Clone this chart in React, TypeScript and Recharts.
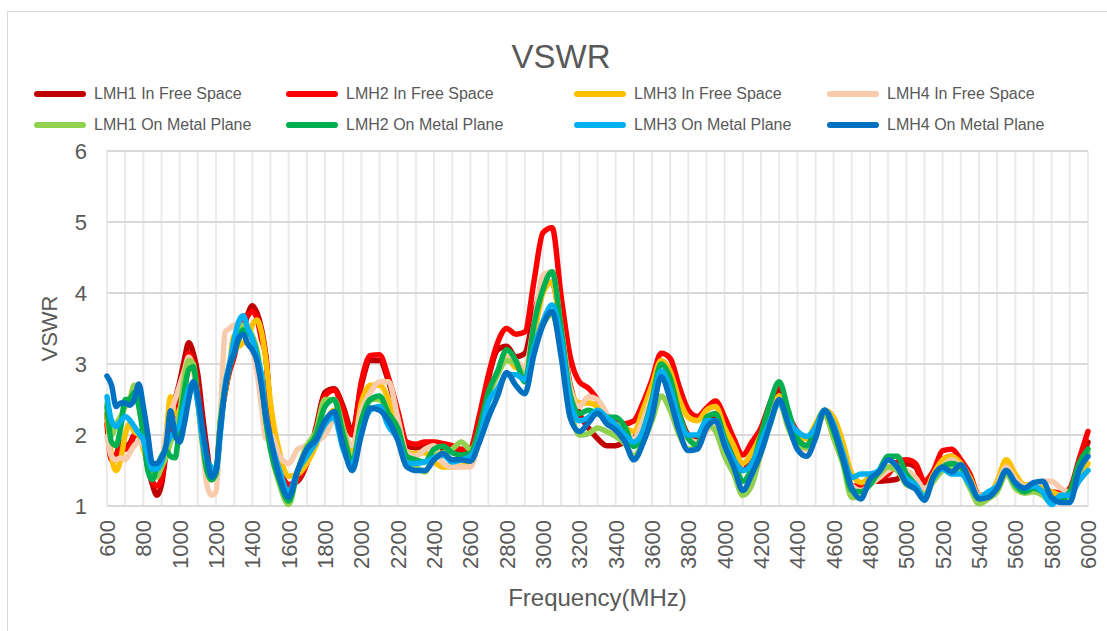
import React from 'react';
import { LineChart, Line, XAxis, YAxis, CartesianGrid, Legend } from 'recharts';

// Frequency (MHz): 25 MHz steps up to 1500, then 50 MHz steps
const FREQ = [
  600, 625, 650, 675, 700, 725, 750, 775, 800, 825, 850, 875, 900, 925, 950, 975, 1000, 1025, 1050, 1075,
  1100, 1125, 1150, 1175, 1200, 1225, 1250, 1275, 1300, 1325, 1350, 1375, 1400, 1425, 1450, 1475, 1500,
  1550, 1600, 1650, 1700, 1750, 1800, 1850, 1900, 1950, 2000,
  2050, 2100, 2150, 2200, 2250, 2300, 2350, 2400, 2450, 2500,
  2550, 2600, 2650, 2700, 2750, 2800, 2850, 2900, 2950, 3000,
  3050, 3100, 3150, 3200, 3250, 3300, 3350, 3400, 3450, 3500,
  3550, 3600, 3650, 3700, 3750, 3800, 3850, 3900, 3950, 4000,
  4050, 4100, 4150, 4200, 4250, 4300, 4350, 4400, 4450, 4500,
  4550, 4600, 4650, 4700, 4750, 4800, 4850, 4900, 4950, 5000,
  5050, 5100, 5150, 5200, 5250, 5300, 5350, 5400, 5450, 5500,
  5550, 5600, 5650, 5700, 5750, 5800, 5850, 5900, 5950, 6000,
];

const LMH1_FREE = [
  2.3, 1.7, 1.72, 1.9, 1.85, 1.88, 2.0, 2.0, 1.9, 1.55, 1.3, 1.15, 1.3, 1.75, 2.2, 2.5, 2.75, 3.05, 3.3, 3.15,
  2.85, 2.3, 1.8, 1.42, 1.45, 2.2, 2.6, 2.95, 3.15, 3.35, 3.5, 3.7, 3.82, 3.72, 3.5, 3.1, 2.3,
  1.5, 1.3, 1.35, 1.6, 2.1, 2.6, 2.65, 2.4, 2.05, 2.7,
  3.05, 3.05, 2.75, 2.3, 1.85, 1.82, 1.85, 1.85, 1.8, 1.78,
  1.75, 1.8, 2.2, 2.8, 3.2, 3.25, 3.1, 3.15, 3.7, 4.1,
  4.15, 3.5, 2.7, 2.3, 2.1, 1.95, 1.85, 1.85, 1.9, 1.95,
  2.2, 2.5, 2.8, 2.7, 2.3, 2.0, 1.95, 2.1, 2.3, 2.0,
  1.7, 1.5, 1.7, 2.0, 2.35, 2.65, 2.3, 1.95, 1.85, 2.05,
  2.3, 1.98, 1.65, 1.28, 1.25, 1.35, 1.35, 1.36, 1.38, 1.6,
  1.55, 1.3, 1.45, 1.65, 1.7, 1.6, 1.4, 1.15, 1.15, 1.3,
  1.5, 1.32, 1.22, 1.22, 1.2, 1.15, 1.15, 1.2, 1.55, 1.9,
];

const LMH2_FREE = [
  2.16, 1.65, 1.65, 1.88, 1.8, 1.83, 2.0, 2.05, 1.9, 1.55, 1.35, 1.28, 1.38, 1.8, 2.1, 2.4, 2.63, 2.9, 3.15, 3.0,
  2.68, 2.0, 1.6, 1.42, 1.45, 2.2, 2.6, 2.9, 3.1, 3.4, 3.55, 3.68, 3.74, 3.65, 3.35, 3.1, 2.2,
  1.55, 1.3, 1.38, 1.6, 2.05, 2.55, 2.63, 2.35, 2.0, 2.75,
  3.12, 3.13, 2.8, 2.35, 1.9, 1.87, 1.9, 1.9, 1.88, 1.85,
  1.8, 1.82, 2.28, 2.85, 3.3, 3.5, 3.42, 3.45, 4.16, 4.85,
  4.92, 3.95, 3.1, 2.75, 2.66, 2.5, 2.28, 2.2, 2.16, 2.2,
  2.45, 2.78, 3.15, 3.08, 2.68, 2.35, 2.26, 2.38, 2.48, 2.25,
  1.95, 1.72, 1.9, 2.1, 2.45, 2.72, 2.3, 2.05, 1.95, 2.1,
  2.3, 2.0, 1.7, 1.28, 1.28, 1.4, 1.4, 1.45, 1.62, 1.65,
  1.6, 1.35, 1.5, 1.78, 1.8, 1.65, 1.45, 1.15, 1.15, 1.3,
  1.55, 1.35, 1.25, 1.25, 1.2, 1.2, 1.18, 1.25, 1.65, 2.05,
];

const LMH3_FREE = [
  2.3, 1.7, 1.5, 1.65, 2.0, 2.16, 2.05, 2.0, 1.8, 1.6, 1.48, 1.5, 1.6, 2.0, 2.54, 2.3, 2.3, 2.6, 2.95, 2.9,
  2.45, 1.9, 1.5, 1.37, 1.45, 2.15, 2.6, 3.0, 3.4, 3.25, 3.3, 3.35, 3.55, 3.62, 3.45, 3.05, 2.45,
  1.75, 1.42, 1.45, 1.6, 1.85, 2.15, 2.35, 2.05, 1.78, 2.45,
  2.7, 2.7, 2.5, 2.1, 1.75, 1.74, 1.75, 1.62, 1.55, 1.55,
  1.56, 1.6, 2.0, 2.55, 2.85, 3.1, 2.95, 2.95, 3.41, 4.0,
  4.15, 3.45, 2.66, 2.45, 2.45, 2.4, 2.2, 2.15, 2.1, 2.05,
  2.35, 2.7, 3.05, 2.9, 2.5, 2.25, 2.2, 2.35, 2.4, 2.1,
  1.85, 1.6, 1.75, 2.0, 2.3, 2.55, 2.25, 2.0, 1.95, 2.15,
  2.35, 2.25, 1.9, 1.45, 1.33, 1.4, 1.5, 1.55, 1.55, 1.5,
  1.4, 1.2, 1.45, 1.65, 1.7, 1.6, 1.4, 1.15, 1.15, 1.35,
  1.65, 1.45, 1.3, 1.3, 1.25, 1.2, 1.15, 1.2, 1.4, 1.6,
];

const LMH4_FREE = [
  1.98, 1.7, 1.65, 1.68, 1.65, 1.75, 1.85, 1.9, 1.85, 1.6, 1.4, 1.45, 1.55, 2.0, 2.3, 2.5, 2.7, 2.9, 3.1, 2.95,
  2.5, 1.85, 1.3, 1.15, 1.2, 2.3, 3.45, 3.5, 3.55, 3.55, 3.5, 3.4, 3.2, 2.9, 2.4, 1.95, 2.0,
  1.7, 1.6, 1.8, 1.85, 1.9, 2.0, 2.2, 2.05, 1.85, 2.35,
  2.6, 2.75, 2.75, 2.25, 1.75, 1.7, 1.8, 1.85, 1.6, 1.55,
  1.55, 1.55, 1.95, 2.5, 2.85, 3.08, 3.05, 2.95, 3.55, 4.25,
  4.3, 3.5, 2.66, 2.4, 2.54, 2.5, 2.3, 2.0, 1.95, 1.95,
  2.2, 2.55, 2.85, 2.65, 2.2, 1.95, 1.9, 2.05, 2.15, 1.85,
  1.6, 1.35, 1.5, 1.85, 2.2, 2.5, 2.15, 1.85, 1.8, 2.05,
  2.3, 2.1, 1.7, 1.28, 1.22, 1.3, 1.4, 1.5, 1.55, 1.5,
  1.4, 1.25, 1.35, 1.55, 1.65, 1.55, 1.35, 1.15, 1.15, 1.3,
  1.55, 1.38, 1.28, 1.3, 1.35, 1.35, 1.25, 1.2, 1.35, 1.5,
];

const LMH1_METAL = [
  2.45, 2.0, 2.15, 2.26, 2.4, 2.5, 2.7, 2.7, 2.1, 1.6, 1.45, 1.41, 1.55, 1.69, 1.9, 2.05, 2.3, 2.8, 3.05, 3.0,
  2.5, 1.9, 1.5, 1.4, 1.5, 2.2, 2.7, 3.0, 3.2, 3.4, 3.55, 3.5, 3.4, 3.2, 2.8, 2.2, 1.8,
  1.3, 1.02, 1.5, 1.85, 2.05, 2.5, 2.5, 2.1, 1.62, 2.2,
  2.5, 2.5, 2.3, 2.1, 1.65, 1.55, 1.48, 1.7, 1.75, 1.8,
  1.9, 1.8, 2.05, 2.55, 2.85, 3.05, 3.0, 2.85, 3.2, 3.55,
  3.7, 3.2, 2.4, 2.0, 2.02, 2.1, 2.05, 1.98, 1.88, 1.7,
  1.9, 2.2, 2.55, 2.35, 2.0, 1.8, 1.83, 2.15, 2.05, 1.7,
  1.45, 1.15, 1.3, 1.75, 2.15, 2.45, 2.1, 1.85, 1.82, 2.0,
  2.3, 1.95, 1.6, 1.12, 1.12, 1.35, 1.45, 1.55, 1.5, 1.3,
  1.25, 1.15, 1.35, 1.5, 1.55, 1.5, 1.25, 1.03, 1.1, 1.2,
  1.45, 1.25, 1.18, 1.2, 1.15, 1.05, 1.1, 1.1, 1.45, 1.75,
];

const LMH2_METAL = [
  2.4, 1.9, 1.85, 2.1, 2.5, 2.5, 2.6, 2.4, 2.0, 1.5, 1.37, 1.55, 1.7, 1.78, 1.7, 1.68, 2.15, 2.6, 2.92, 2.96,
  2.5, 1.95, 1.5, 1.37, 1.45, 2.2, 2.65, 2.95, 3.15, 3.35, 3.48, 3.45, 3.35, 3.15, 2.75, 2.2, 1.8,
  1.35, 1.07, 1.5, 1.8, 2.0, 2.4, 2.5, 2.0, 1.62, 2.2,
  2.5, 2.55, 2.3, 2.1, 1.7, 1.65, 1.62, 1.8, 1.84, 1.75,
  1.72, 1.74, 2.1, 2.61, 2.9, 3.2, 3.05, 2.75, 3.55, 4.05,
  4.3, 3.5, 2.56, 2.3, 2.35, 2.3, 2.25, 2.25, 2.12, 1.84,
  2.05, 2.5, 3.0, 2.8, 2.3, 1.95, 1.86, 2.25, 2.3, 1.95,
  1.65, 1.35, 1.55, 2.0, 2.45, 2.75, 2.35, 1.95, 1.85, 2.1,
  2.35, 2.05, 1.65, 1.22, 1.2, 1.3, 1.5, 1.7, 1.7, 1.45,
  1.3, 1.12, 1.4, 1.55, 1.6, 1.55, 1.3, 1.12, 1.15, 1.25,
  1.5, 1.3, 1.2, 1.25, 1.2, 1.1, 1.1, 1.2, 1.6, 1.8,
];

const LMH3_METAL = [
  2.54, 2.2, 2.12, 2.2, 2.26, 2.21, 2.12, 2.02, 1.93, 1.7, 1.52, 1.52, 1.62, 1.85, 1.98, 2.05, 2.15, 2.4, 2.65, 2.73,
  2.45, 1.95, 1.65, 1.55, 1.5, 2.05, 2.7, 3.0, 3.35, 3.6, 3.68, 3.5, 3.35, 3.1, 2.85, 2.3, 1.95,
  1.5, 1.2, 1.5, 1.7, 1.9, 2.15, 2.25, 1.8, 1.58, 2.05,
  2.35, 2.4, 2.12, 1.95, 1.6, 1.6, 1.62, 1.68, 1.72, 1.62,
  1.65, 1.7, 1.95, 2.47, 2.65, 2.85, 2.85, 2.78, 3.22, 3.6,
  3.83, 3.35, 2.45, 2.2, 2.25, 2.35, 2.25, 2.15, 2.0, 1.9,
  2.05, 2.45, 2.9, 2.65, 2.2, 2.0, 2.0, 2.2, 2.2, 1.9,
  1.65, 1.5, 1.6, 1.9, 2.2, 2.45, 2.2, 2.05, 1.98, 2.1,
  2.35, 2.15, 1.75, 1.4, 1.45, 1.45, 1.5, 1.65, 1.55, 1.38,
  1.3, 1.12, 1.4, 1.52, 1.45, 1.45, 1.3, 1.12, 1.2, 1.28,
  1.5, 1.32, 1.25, 1.28, 1.2, 1.02, 1.15, 1.15, 1.35, 1.5,
];

const LMH4_METAL = [
  2.83, 2.7, 2.4, 2.45, 2.45, 2.42, 2.5, 2.72, 2.4, 2.0, 1.6, 1.6, 1.68, 1.85, 2.34, 2.0, 1.9, 2.15, 2.5, 2.75,
  2.55, 2.1, 1.7, 1.41, 1.5, 2.1, 2.65, 2.98, 3.15, 3.37, 3.42, 3.28, 3.2, 3.05, 2.7, 2.25, 1.95,
  1.4, 1.12, 1.5, 1.8, 1.93, 2.2, 2.33, 1.85, 1.5, 2.0,
  2.38, 2.35, 2.2, 1.93, 1.55, 1.5, 1.5, 1.65, 1.74, 1.65,
  1.65, 1.63, 1.9, 2.25, 2.55, 2.88, 2.7, 2.58, 3.13, 3.55,
  3.74, 3.1, 2.24, 2.05, 2.17, 2.31, 2.16, 2.07, 1.91, 1.65,
  1.88, 2.26, 2.82, 2.5, 2.05, 1.78, 1.8, 2.1, 2.2, 1.85,
  1.55, 1.22, 1.45, 1.75, 2.15, 2.5, 2.15, 1.8, 1.7, 1.95,
  2.35, 2.1, 1.68, 1.25, 1.1, 1.38, 1.48, 1.65, 1.55, 1.32,
  1.24, 1.08, 1.42, 1.55, 1.48, 1.58, 1.36, 1.1, 1.12, 1.25,
  1.5, 1.33, 1.25, 1.33, 1.35, 1.12, 1.05, 1.05, 1.5, 1.7,
];

const SERIES_NAMES = [
  'LMH1 In Free Space', 'LMH2 In Free Space', 'LMH3 In Free Space', 'LMH4 In Free Space',
  'LMH1 On Metal Plane', 'LMH2 On Metal Plane', 'LMH3 On Metal Plane', 'LMH4 On Metal Plane',
];
const SERIES_VALUES = [LMH1_FREE, LMH2_FREE, LMH3_FREE, LMH4_FREE, LMH1_METAL, LMH2_METAL, LMH3_METAL, LMH4_METAL];
const SERIES_COLORS = ['#c00000', '#ff0000', '#ffc000', '#f8cbad', '#92d050', '#00b050', '#00b0f0', '#0070c0'];

const X_TICKS = [
  600, 700, 800, 900, 1000, 1100, 1200, 1300, 1400, 1500, 1600, 1700, 1800, 1900, 2000, 2100, 2200, 2300,
  2400, 2500, 2600, 2700, 2800, 2900, 3000, 3100, 3200, 3300, 3400, 3500, 3600, 3700, 3800, 3900, 4000,
  4100, 4200, 4300, 4400, 4500, 4600, 4700, 4800, 4900, 5000, 5100, 5200, 5300, 5400, 5500, 5600, 5700,
  5800, 5900, 6000,
];
const Y_TICKS = [1, 2, 3, 4, 5, 6];

const data = FREQ.map((f, i) => {
  const row: Record<string, number> = { f };
  SERIES_VALUES.forEach((arr, s) => {
    row['s' + s] = arr[i];
  });
  return row;
});

const FONT = '"Liberation Sans", Arial, sans-serif';
const TEXT = '#595959';

// legend layout: column x (line start) and row y (center)
const LEGEND_COLS = [34, 286, 574, 827];
const LEGEND_ROWS = [94, 125];

const XTick = (props: any) => {
  const { x, y, payload } = props;
  if (payload.value % 200 !== 0) return <g />;
  return (
    <g transform={`translate(${x},${y})`}>
      <text transform="rotate(-90)" x={0} y={0} dy="0.36em" textAnchor="end" fill={TEXT} fontSize={22} fontFamily={FONT}>
        {payload.value}
      </text>
    </g>
  );
};

const renderLegend = (props: any) => {
  const payload = [...(props.payload || [])].sort(
    (a: any, b: any) => SERIES_NAMES.indexOf(a.value) - SERIES_NAMES.indexOf(b.value)
  );
  return (
    <div style={{ position: 'relative', width: 1107, height: 0 }}>
      {payload.map((item: any, i: number) => {
        const lx = LEGEND_COLS[i % 4];
        const ly = LEGEND_ROWS[Math.floor(i / 4)];
        return (
          <React.Fragment key={i}>
            <div
              style={{
                position: 'absolute', left: lx, top: ly - 3, width: 52, height: 6,
                borderRadius: 3, background: item.color,
              }}
            />
            <div
              style={{
                position: 'absolute', left: lx + 60, top: ly - 11, height: 22, lineHeight: '22px',
                fontSize: 16, fontFamily: FONT, color: TEXT, whiteSpace: 'nowrap',
              }}
            >
              {item.value}
            </div>
          </React.Fragment>
        );
      })}
    </div>
  );
};

export default function App() {
  return (
    <div style={{ position: 'absolute', left: 0, top: 0, width: 1107, height: 631, overflow: 'hidden', background: '#fff' }}>
      <div style={{ position: 'absolute', left: 7, top: 11, width: 1110, height: 640, border: '1px solid #d9d9d9' }} />
      <div
        style={{
          position: 'absolute', left: 461, top: 36, width: 200, textAlign: 'center',
          fontSize: 33, lineHeight: '42px', fontFamily: FONT, color: TEXT,
        }}
      >
        VSWR
      </div>
      <div style={{ position: 'absolute', left: 0, top: 0 }}>
        <LineChart width={1107} height={631} data={data} margin={{ top: 151, right: 19, bottom: 85, left: 67 }}>
          <CartesianGrid horizontal={false} vertical stroke="#ebebeb" strokeWidth={2} />
          <CartesianGrid horizontal vertical={false} stroke="#d9d9d9" strokeWidth={2} />
          <XAxis
            dataKey="f"
            type="number"
            domain={[600, 6000]}
            ticks={X_TICKS}
            interval={0}
            height={40}
            tickSize={0}
            tickMargin={14}
            axisLine={false}
            tickLine={false}
            tick={<XTick />}
            label={{
              content: (p: any) => {
                const vb = p.viewBox || {};
                return (
                  <text x={vb.x + vb.width / 2} y={vb.y + 92} dy="0.35em" textAnchor="middle" fill={TEXT} fontSize={24} fontFamily={FONT}>
                    Frequency(MHz)
                  </text>
                );
              },
            }}
          />
          <YAxis
            type="number"
            domain={[1, 6]}
            ticks={Y_TICKS}
            interval={0}
            width={40}
            tickSize={0}
            tickMargin={20}
            axisLine={false}
            tickLine={false}
            tick={{ fill: TEXT, fontSize: 22, fontFamily: FONT }}
            label={{
              content: (p: any) => {
                const vb = p.viewBox || {};
                const cx = vb.x + vb.width - 58;
                const cy = vb.y + vb.height / 2;
                return (
                  <text x={cx} y={cy} dy="0.35em" textAnchor="middle" transform={`rotate(-90, ${cx}, ${cy})`} fill={TEXT} fontSize={22} fontFamily={FONT}>
                    VSWR
                  </text>
                );
              },
            }}
          />
          <Legend verticalAlign="top" wrapperStyle={{ top: 0, left: 0, width: 1107, height: 0 }} content={renderLegend} />
          {SERIES_NAMES.map((name, s) => (
            <Line
              key={name}
              type="monotone"
              dataKey={'s' + s}
              name={name}
              stroke={SERIES_COLORS[s]}
              strokeWidth={5.5}
              strokeLinejoin="round"
              strokeLinecap="round"
              dot={false}
              activeDot={false}
              isAnimationActive={false}
            />
          ))}
        </LineChart>
      </div>
    </div>
  );
}
